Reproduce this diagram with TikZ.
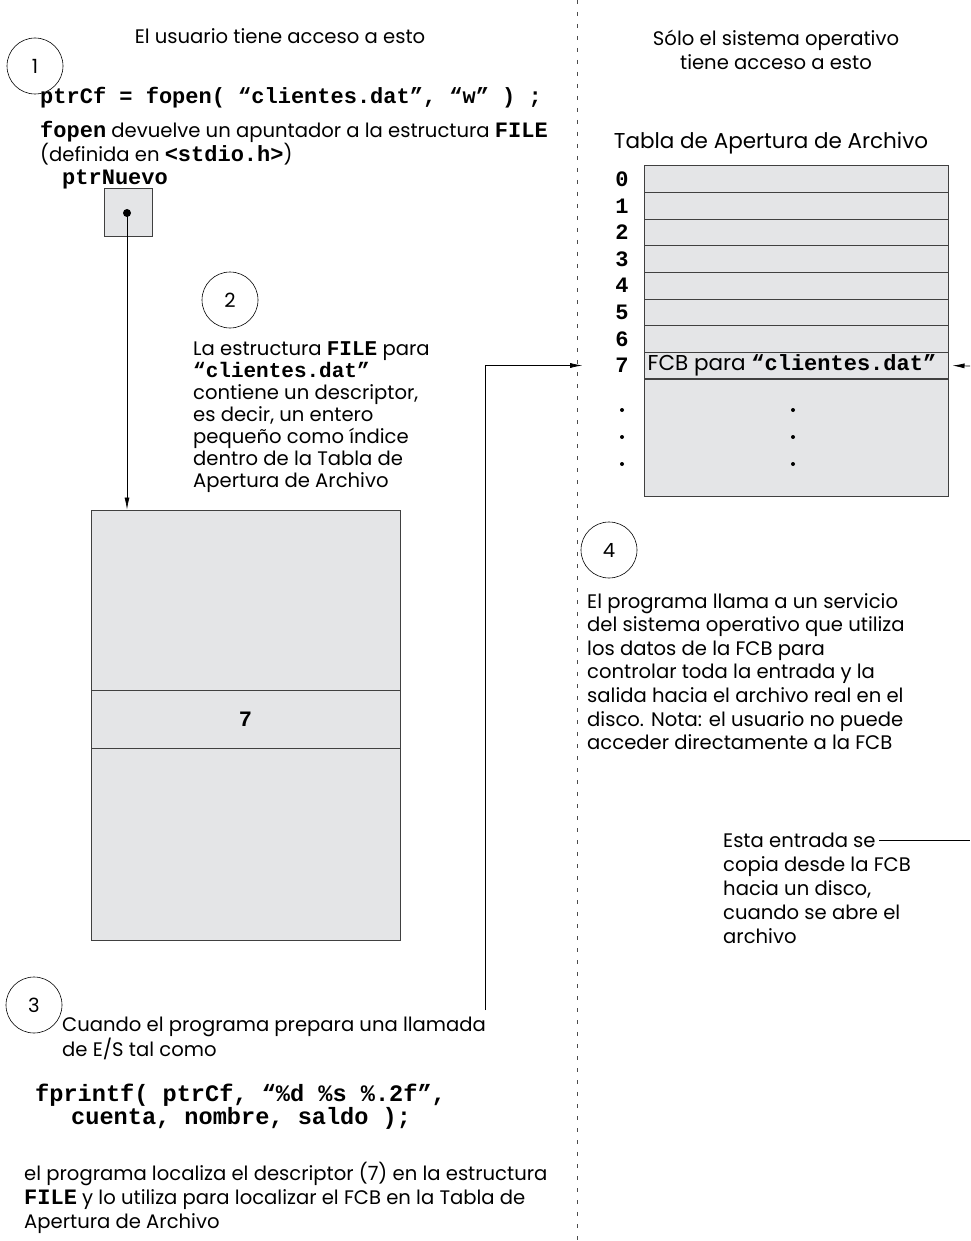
\documentclass[tikz,border=0pt]{standalone}
\usepackage{fontspec}
\setmainfont{Poppins}
\setmonofont{Liberation Mono}
\usetikzlibrary{arrows.meta}
\definecolor{cellgray}{HTML}{E4E5E7}
\newcommand{\mono}[1]{{\ttfamily\bfseries #1}}
\newcommand{\monosize}{\fontsize{22}{26}\selectfont}

\begin{document}
\begin{tikzpicture}[x=1pt, y=-1pt,
    every node/.style={inner sep=0pt},
    txt/.style={font=\fontsize{19.6}{#1}\selectfont, align=left, anchor=north west},
    txt/.default=23.6,
    head/.style={font=\fontsize{19.6}{24}\selectfont},
    code/.style={font=\monosize\ttfamily\bfseries, anchor=base west},
    stepnum/.style={circle, draw, line width=0.6pt, minimum size=56pt, font=\fontsize{19.6}{22}\selectfont},
    cell/.style={draw=black!75, fill=cellgray, line width=1pt},
    arr/.style={-{Latex[length=12pt,width=5pt]}, line width=0.7pt},
    sep/.style={dash pattern=on 4pt off 8pt, line width=0.7pt, black!70}]
  \useasboundingbox (0,0) rectangle (970,1241);

  % dividing line
  \coordinate (divtop) at (577,0);
  \coordinate (divbot) at (577,1241);
  \draw[sep] (divtop) -- (divbot);

  % headings
  \node[head, anchor=base] (usertitle) at (280,44) {El usuario tiene acceso a esto};
  \node[head, align=center, anchor=north] (ostitle) at (776,30) {Sólo el sistema operativo\\tiene acceso a esto};

  % step 1
  \node[stepnum] (s1) at (35,66) {1};
  \node[code] (fopencall) at (40,104) {ptrCf = fopen( “clientes.dat”, “w” ) ;};
  \node[txt=20.5] (fopeninfo) at (40,121) {\mono{\monosize fopen} devuelve un apuntador a la estructura \mono{\monosize FILE}\\(definida en \mono{\monosize <stdio.h>})};
  \node[code] (ptrname) at (62,185) {ptrNuevo};
  \node[cell, minimum width=48pt, minimum height=48pt] (ptrbox) at (128,213) {};
  \node[circle, fill=black, minimum size=8pt] (ptrdot) at (127,213) {};

  % FILE structure
  \node[cell, minimum width=309pt, minimum height=180pt] (ftop) at (245.5,600) {};
  \node[cell, minimum width=309pt, minimum height=58pt, font=\monosize\ttfamily\bfseries] (fmid) at (245.5,719) {7};
  \node[cell, minimum width=309pt, minimum height=192pt] (fbot) at (245.5,844) {};
  \draw[arr] (ptrdot.center) -- (ftop.north -| ptrdot);

  % step 2
  \node[stepnum] (s2) at (230,300) {2};
  \node[txt=22] (s2text) at (193,341) {La estructura \mono{\fontsize{21}{22}\selectfont FILE} para\\\mono{\fontsize{21}{22}\selectfont “clientes.dat”}\\contiene un descriptor,\\es decir, un entero\\pequeño como índice\\dentro de la Tabla de\\Apertura de Archivo};

  % open file table
  \node[font=\fontsize{21.5}{24}\selectfont, anchor=base] (tabtitle) at (771,149) {Tabla de Apertura de Archivo};
  \foreach \i in {0,...,7} {
    \node[cell, minimum width=304pt, minimum height=26.6pt] (row\i) at (796,{179.3+26.6*\i}) {};
    \node[font=\monosize\ttfamily\bfseries] (idx\i) at (622,{179.3+26.6*\i}) {\i};
  }
  \node[cell, minimum width=304pt, minimum height=117pt] (rest) at (796,437.5) {};
  \node[font=\fontsize{21.5}{24}\selectfont, anchor=west] (fcb) at ([xshift=4pt]row7.west) {FCB para \mono{\monosize “clientes.dat”}};
  \foreach \y in {410,437,464} {
    \fill (622,\y) circle (2pt);
    \fill (793,\y) circle (2pt);
  }
  \coordinate (rightin) at (970,366);
  \draw[arr, shorten >=4pt] (rightin) -- (row7.east);

  % step 3
  \node[stepnum] (s3) at (34,1005) {3};
  \node[txt=23] (s3text) at (62,1017) {Cuando el programa prepara una llamada\\de E/S tal como};
  \node[code, font=\fontsize{23.6}{26}\selectfont\ttfamily\bfseries] (fprintf1) at (35,1101) {fprintf( ptrCf, “\%d \%s \%.2f”,};
  \node[code, font=\fontsize{23.6}{26}\selectfont\ttfamily\bfseries] (fprintf2) at (71,1124) {cuenta, nombre, saldo );};
  \node[txt=24] (s3end) at (24,1162) {el programa localiza el descriptor (7) en la estructura\\\mono{\monosize FILE} y lo utiliza para localizar el FCB en la Tabla de\\Apertura de Archivo};
  \coordinate (callpt) at (485,1010);
  \draw[arr, shorten >=33pt] (callpt) |- (idx7.west);

  % step 4
  \node[stepnum] (s4) at (609,550) {4};
  \node[txt] (s4text) at (587,593) {El programa llama a un servicio\\del sistema operativo que utiliza\\los datos de la FCB para\\controlar toda la entrada y la\\salida hacia el archivo real en el\\disco. Nota: el usuario no puede\\acceder directamente a la FCB};

  % note on the FCB
  \node[txt=24] (copynote) at (723,833) {Esta entrada se\\copia desde la FCB\\hacia un disco,\\cuando se abre el\\archivo};
  \coordinate (noteend) at (879,840);
  \coordinate (noteedge) at (970,840);
  \draw[line width=0.6pt] (noteend) -- (noteedge);
\end{tikzpicture}
\end{document}
